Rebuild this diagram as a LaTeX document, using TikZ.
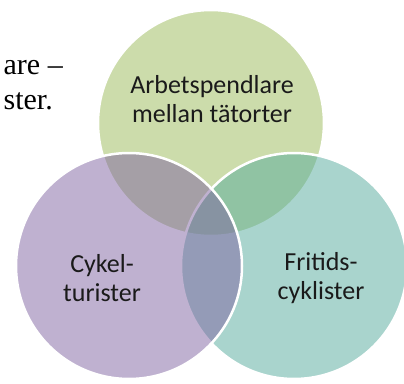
\documentclass[tikz,border=0pt]{standalone}
\usepackage{fontspec}
\setmainfont{Carlito}
\newfontfamily\serifdoc{Liberation Serif}
\definecolor{vgreen}{HTML}{9BBB59}
\definecolor{vteal}{HTML}{55AB9D}
\definecolor{vpurple}{HTML}{8064A2}
\definecolor{vtext}{HTML}{1A1A1A}
\begin{document}
\begin{tikzpicture}[x=1pt,y=-1pt,
  vcircle/.style={fill=#1, fill opacity=0.5, draw=white, draw opacity=1, line width=2.5pt},
  vlabel/.style={text=vtext, inner sep=0pt, align=center, font=\fontsize{26}{29}\selectfont},
  doctext/.style={text=black, inner sep=0pt, align=right, anchor=base east, font=\serifdoc\fontsize{30}{35}\selectfont}]
\useasboundingbox (0,0) rectangle (404,383);
\clip (0,0) rectangle (404,383);
\fill[white] (0,0) rectangle (404,383);
\node[doctext] (doc1) at (63,74) {are –};
\node[doctext] (doc2) at (53,109) {ster.};
\path[vcircle=vgreen] (211,123) circle (113);
\path[vcircle=vteal] (294,266) circle (113);
\path[vcircle=vpurple] (129,266) circle (113);
\node[vlabel] (arb) at (212,99) {Arbetspendlare\\mellan tätorter};
\node[vlabel] (cyk) at (102,278) {Cykel-\\turister};
\node[vlabel] (fri) at (321,278) {Fritids-\\cyklister};
\end{tikzpicture}
\end{document}
